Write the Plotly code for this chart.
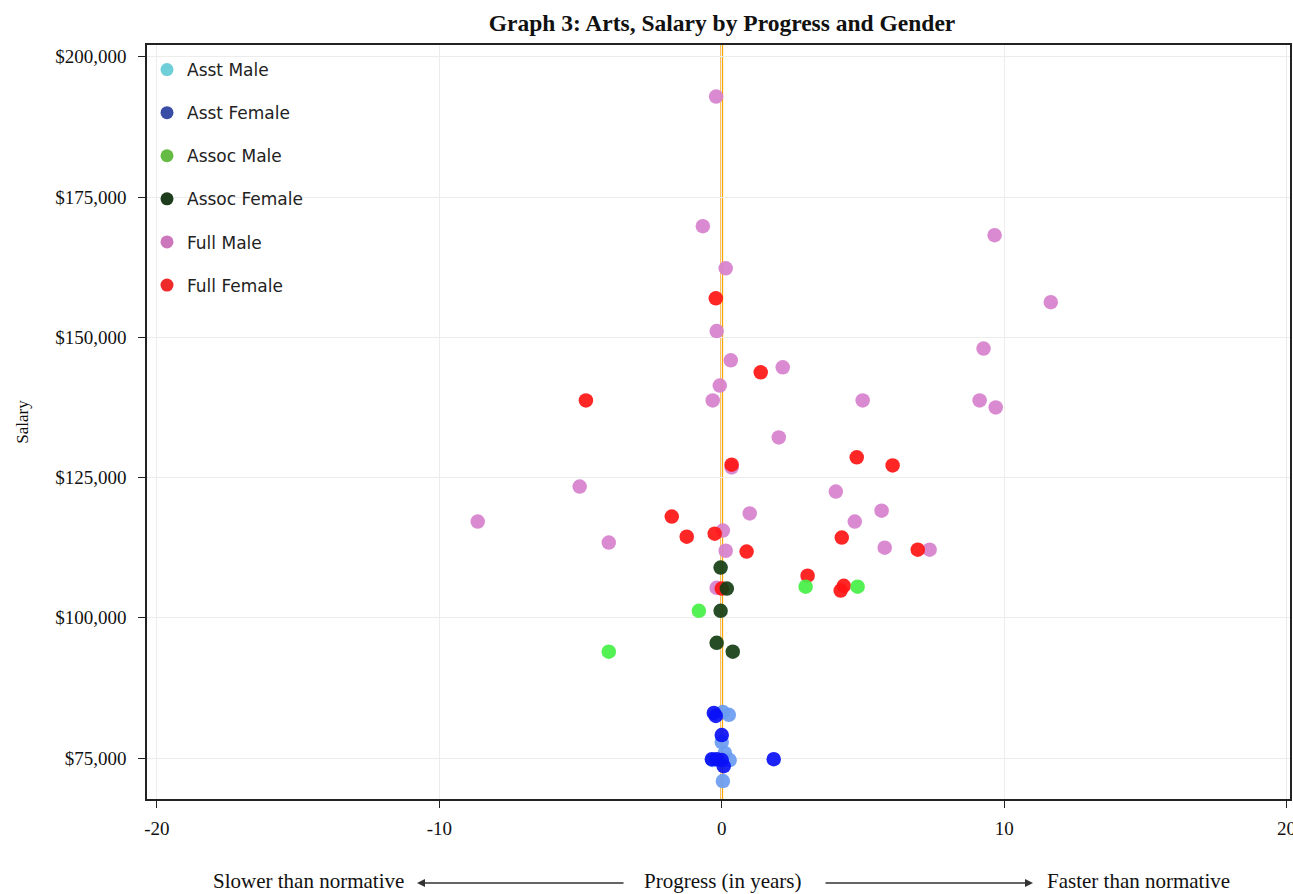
import plotly.graph_objects as go

# ---- data (progress in years, salary in $) ----
full_male_x = [-0.2, -0.67, 9.66, 0.14, 11.65, -0.18, 9.27, 0.32, 2.16, -0.07, -0.32, 4.99, 9.13, 9.70,
               2.02, 0.35, 4.04, -5.03, 5.66, 0.99, 4.71, -8.64, 0.04, -4.0, 5.77, 7.36, 0.14, -0.18]
full_male_y = [192900, 169800, 168200, 162300, 156250, 151100, 148000, 145900, 144650, 141400, 138750,
               138750, 138750, 137500, 132150, 126800, 122500, 123400, 119100, 118600, 117150, 117150,
               115550, 113400, 112500, 112150, 111950, 105350]

full_female_x = [-0.21, 1.38, -4.81, 4.78, 6.05, 0.35, -1.77, -1.24, -0.25, 4.25, 0.88, 6.94, 3.04,
                 4.32, 4.21, 0.0]
full_female_y = [156950, 143750, 138750, 128600, 127150, 127300, 118050, 114450, 115000, 114300,
                 111800, 112150, 107500, 105700, 104850, 105200]

assoc_male_x = [2.97, 4.81, -0.81, -4.0]
assoc_male_y = [105550, 105550, 101250, 93950]

assoc_female_x = [-0.04, 0.18, -0.04, -0.18, 0.39]
assoc_female_y = [108950, 105200, 101250, 95550, 93950]

asst_male_x = [0.25, 0.04, 0.0, 0.11, 0.28, -0.32, 0.04]
asst_male_y = [82700, 83200, 77850, 75900, 74650, 74650, 70900]

asst_female_x = [-0.28, -0.21, 0.0, -0.18, 0.0, 0.07, 1.84, -0.35]
asst_female_y = [83050, 82500, 79100, 74800, 74650, 73550, 74800, 74800]

legend_names = ["Asst Male", "Asst Female", "Assoc Male", "Assoc Female", "Full Male", "Full Female"]
legend_colors = ["#6fcfd8", "#3b4ea6", "#66bb44", "#1d3d1d", "#cc77bb", "#ee2a2a"]

x_ticks = [-20, -10, 0, 10, 20]
y_ticks = [75000, 100000, 125000, 150000, 175000, 200000]
y_tick_labels = ["$75,000", "$100,000", "$125,000", "$150,000", "$175,000", "$200,000"]

# drawing order (bottom to top) and marker colours
series = [
    ("Full Male", full_male_x, full_male_y, "#d780cc"),
    ("Full Female", full_female_x, full_female_y, "#ff1414"),
    ("Assoc Male", assoc_male_x, assoc_male_y, "#44f044"),
    ("Assoc Female", assoc_female_x, assoc_female_y, "#143e14"),
    ("Asst Male", asst_male_x, asst_male_y, "#6a9cf2"),
    ("Asst Female", asst_female_x, asst_female_y, "#0a10f5"),
]

fig = go.Figure()

for name, xs, ys, col in series:
    fig.add_trace(go.Scatter(
        x=xs, y=ys, mode="markers", name=name, showlegend=False,
        marker=dict(size=14.5, color=col, opacity=0.92, line=dict(width=0)),
    ))

for i, (name, col) in enumerate(zip(legend_names, legend_colors)):
    fig.add_trace(go.Scatter(
        x=[None], y=[None], mode="markers", name=name, legendgroup=f"g{i}",
        marker=dict(size=13, color=col),
    ))

fig.add_shape(type="line", xref="x", yref="paper", x0=0, x1=0, y0=0, y1=1,
              line=dict(color="#ffa500", width=2.8), layer="below")

serif = "Liberation Serif"
L, R, T, B = 147, 3, 45, 95
W, H = 1293, 894
pw = W - L - R
ph = H - T - B

def px2x(p):
    return (p - L) / pw

def py2y(p):
    return (H - B - p) / ph

label_y = py2y(881)
lab_font = dict(family=serif, size=21, color="#111")
fig.add_annotation(text="Slower than normative", x=px2x(406), y=label_y, xref="paper", yref="paper",
                   xanchor="right", yanchor="middle", showarrow=False, font=lab_font)
fig.add_annotation(text="Progress (in years)", x=px2x(722), y=label_y, xref="paper", yref="paper",
                   xanchor="center", yanchor="middle", showarrow=False, font=lab_font)
fig.add_annotation(text="Faster than normative", x=px2x(1045), y=label_y, xref="paper", yref="paper",
                   xanchor="left", yanchor="middle", showarrow=False, font=lab_font)
# arrows
arrow_y = py2y(883)
fig.add_annotation(text="", x=px2x(417), y=arrow_y, xref="paper", yref="paper",
                   ax=208, ay=0, showarrow=True, arrowhead=2, arrowsize=1, arrowwidth=1.6,
                   arrowcolor="#333", standoff=0)
fig.add_annotation(text="", x=px2x(1033), y=arrow_y, xref="paper", yref="paper",
                   ax=-209, ay=0, showarrow=True, arrowhead=2, arrowsize=1, arrowwidth=1.6,
                   arrowcolor="#333", standoff=0)

fig.update_layout(
    template="none",
    width=W, height=H,
    margin=dict(l=L, r=R, t=T, b=B, autoexpand=False),
    paper_bgcolor="white", plot_bgcolor="white",
    title=dict(text="<b>Graph 3: Arts, Salary by Progress and Gender</b>", x=722 / W,
               xanchor="center", y=1 - 23 / H, yanchor="middle",
               font=dict(family=serif, size=23.5, color="#111")),
    legend=dict(x=0.0, y=1 - 7 / ph, xanchor="left", yanchor="top", bgcolor="rgba(0,0,0,0)",
                font=dict(family="DejaVu Sans", size=17, color="#222"), tracegroupgap=18,
                itemsizing="trace"),
    showlegend=True,
)

fig.update_xaxes(
    range=[-20.35, 20.12], tickvals=x_ticks, ticktext=[str(v) for v in x_ticks],
    showgrid=True, gridcolor="#ececec", gridwidth=1, zeroline=False,
    showline=True, linecolor="#222", linewidth=1.6, mirror=True,
    ticks="outside", ticklen=7, tickcolor="#222", tickwidth=1.2,
    tickfont=dict(family=serif, size=19, color="#111"), automargin=False,
    ticklabelstandoff=4, ticklabeloverflow="allow",
)
fig.update_yaxes(
    range=[67700, 202100], tickvals=y_ticks, ticktext=y_tick_labels,
    showgrid=True, gridcolor="#ececec", gridwidth=1, zeroline=False,
    showline=True, linecolor="#222", linewidth=1.6, mirror=True,
    ticks="outside", ticklen=7, tickcolor="#222", tickwidth=1.2,
    tickfont=dict(family=serif, size=19, color="#111"), automargin=False,
    ticklabelstandoff=8, ticklabeloverflow="allow",
    title=dict(text="Salary", font=dict(family=serif, size=17, color="#111"), standoff=22),
)

fig.write_html("out.html", config={"displayModeBar": False},
               post_script="document.body.style.margin='0';document.body.style.padding='0';")
